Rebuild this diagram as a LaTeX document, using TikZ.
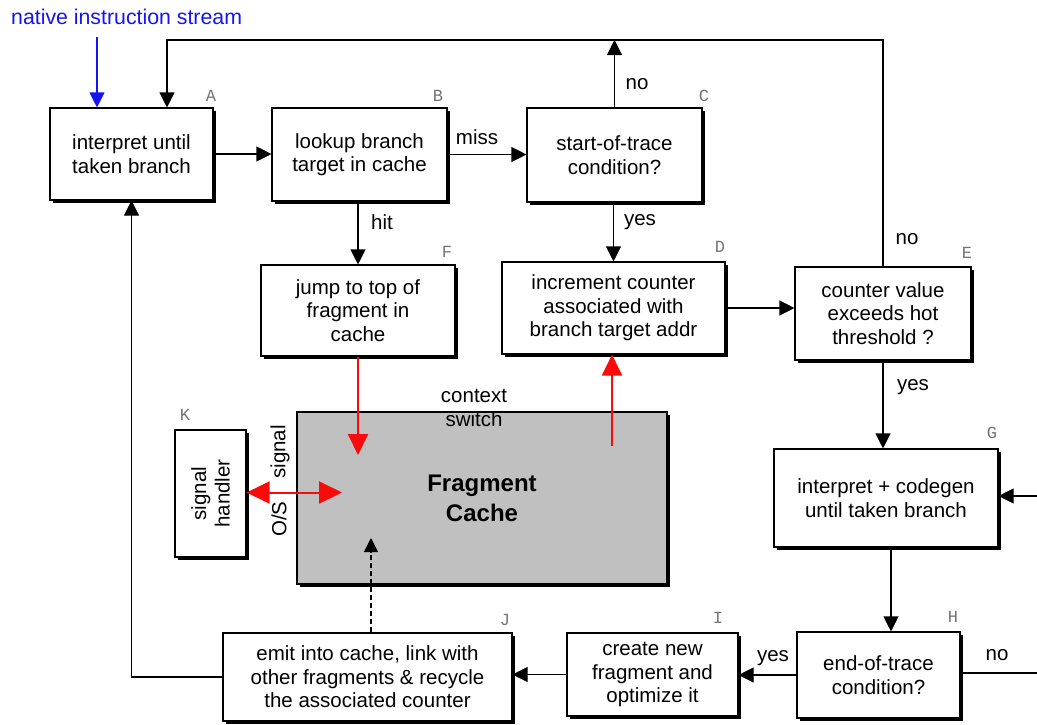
\documentclass[tikz,border=0pt]{standalone}
\usepackage{fontspec}
\setmainfont{Liberation Sans}
\newfontfamily\lettermono{Liberation Mono}
\usetikzlibrary{arrows.meta,shadows}
\definecolor{cachegray}{RGB}{192,192,192}
\definecolor{nisblue}{RGB}{20,20,245}
\definecolor{sigred}{RGB}{250,10,10}
\begin{document}
\begin{tikzpicture}[x=1pt,y=-1pt,
  txt/.style={font=\fontsize{20.5}{23.5}\selectfont, align=center, inner sep=0pt},
  box/.style={txt, draw, line width=1.1pt, fill=white,
    drop shadow={shadow xshift=3pt, shadow yshift=-3pt, fill=black, opacity=1}},
  tag/.style={font=\lettermono\fontsize{17}{17}\selectfont, text=black!55, inner sep=0pt},
  arr/.style={line width=1.1pt, -{Triangle[length=15pt,width=15pt]}},
  redarr/.style={draw=sigred, line width=2pt, -{Triangle[length=21pt,width=20pt]}},
  reddbl/.style={draw=sigred, line width=2pt, {Triangle[length=23pt,width=22pt]}-{Triangle[length=23pt,width=22pt]}},
  dasharr/.style={line width=1.1pt, dash pattern=on 5pt off 3pt, -{Triangle[length=14pt,width=14pt]}},
]
\path[use as bounding box] (0,0) rectangle (1037,724);

% title and entry arrow
\node[txt, text=nisblue, anchor=west, font=\fontsize{21.3}{24}\selectfont] (title) at (11,17) {native instruction stream};
\coordinate (nisIn) at (97,37);

% process boxes
\node[box, minimum width=163pt, minimum height=92pt] (A) at (131.5,154) {interpret until\\taken branch};
\node[box, minimum width=175pt, minimum height=93pt] (B) at (359.5,154.5) {lookup branch\\target in cache};
\node[box, minimum width=175pt, minimum height=94pt] (C) at (614.5,155) {start-of-trace\\condition?};
\node[box, minimum width=223pt, minimum height=92pt] (D) at (613.5,308) {increment counter\\associated with\\branch target addr};
\node[box, minimum width=176pt, minimum height=93pt] (E) at (883,313.5) {counter value\\exceeds hot\\threshold ?};
\node[box, minimum width=194pt, minimum height=91pt] (F) at (358,310.5) {jump to top of\\fragment in\\cache};
\node[box, minimum width=224pt, minimum height=98pt] (G) at (886,498) {interpret + codegen\\until taken branch};
\node[box, minimum width=163pt, minimum height=86pt] (H) at (878.5,675) {end-of-trace\\condition?};
\node[box, minimum width=171pt, minimum height=83pt] (I) at (652.5,674.5) {create new\\fragment and\\optimize it};
\node[box, minimum width=289pt, minimum height=88pt] (J) at (367.5,677) {emit into cache, link with\\other fragments \& recycle\\the associated counter};
\node[box, minimum width=71pt, minimum height=127pt] (K) at (210.5,493.5) {};
\node[txt, rotate=90] (Ktext) at (K.center) {signal\\handler};

% fragment cache
\node[box, fill=cachegray, minimum width=370pt, minimum height=172pt,
  font=\bfseries\fontsize{24}{30}\selectfont] (FC) at (482,498) {Fragment\\Cache};

% box tags
\node[tag] (tA) at (211,96) {A};
\node[tag] (tB) at (438,96) {B};
\node[tag] (tC) at (704,96) {C};
\node[tag] (tD) at (720,247) {D};
\node[tag] (tE) at (967,253) {E};
\node[tag] (tF) at (447,252) {F};
\node[tag] (tG) at (992,433) {G};
\node[tag] (tH) at (953,617) {H};
\node[tag] (tI) at (718,618) {I};
\node[tag] (tJ) at (505,620) {J};
\node[tag] (tK) at (185,415) {K};

% helper points
\coordinate (topR) at (883,40);
\coordinate (topL) at (167,40);
\coordinate (offH) at (1037,673);
\coordinate (offG) at (1037,496);
\coordinate (dashTip) at (371,538);
\coordinate (redIn) at (358,455);
\coordinate (redOut) at (612,446);
\coordinate (sigTip) at (342,492.5);

% connectors
\draw[arr, draw=nisblue, color=nisblue] (nisIn) -- (nisIn |- A.north);
\draw[arr] (A.east) -- (A.east -| B.west);
\draw[arr] (B.east) -- (B.east -| C.west);
\draw[arr] (C.north) -- (C.north |- topR);
\draw[arr] (E.north) -- (topR) -- (topL) -- (topL |- A.north);
\draw[arr] (B.south -| F.north) -- (F.north);
\draw[arr] (C.south -| D.north) -- (D.north);
\draw[arr] (D.east) -- (D.east -| E.west);
\draw[arr] (E.south) -- (E.south |- G.north);
\draw[arr] ([xshift=5pt]G.south) -- ([xshift=5pt]G.south |- H.north);
\draw[arr] (offG) -- (offG -| G.east);
\draw[line width=1.1pt] (H.east |- offH) -- (offH);
\draw[arr] (H.west) -- (H.west -| I.east);
\draw[arr] (I.west) -- (I.west -| J.east);
\draw[arr] (J.west) -| (A.south);
\draw[dasharr] (J.north -| dashTip) -- (dashTip);

% context switches and signals
\draw[redarr] (F.south) -- (redIn);
\draw[redarr] (redOut) -- (redOut |- D.south);
\draw[reddbl] (K.east |- sigTip) -- (sigTip);

% edge labels
\node[txt] (lmiss) at (477,137) {miss};
\node[txt] (lnoC) at (637,84) {no};
\node[txt] (lyesC) at (640,222) {yes};
\node[txt] (lhit) at (382,222) {hit};
\node[txt] (lnoE) at (907,239) {no};
\node[txt] (lyesE) at (913,387) {yes};
\node[txt] (lyesH) at (773,658) {yes};
\node[txt] (lnoH) at (997,655) {no};
\node[txt] (lctx) at (474,408) {context\\switch};
\node[txt, rotate=90] (los) at (279,519) {O/S};
\node[txt, rotate=90] (lsig) at (280,452) {signal};
\end{tikzpicture}
\end{document}
